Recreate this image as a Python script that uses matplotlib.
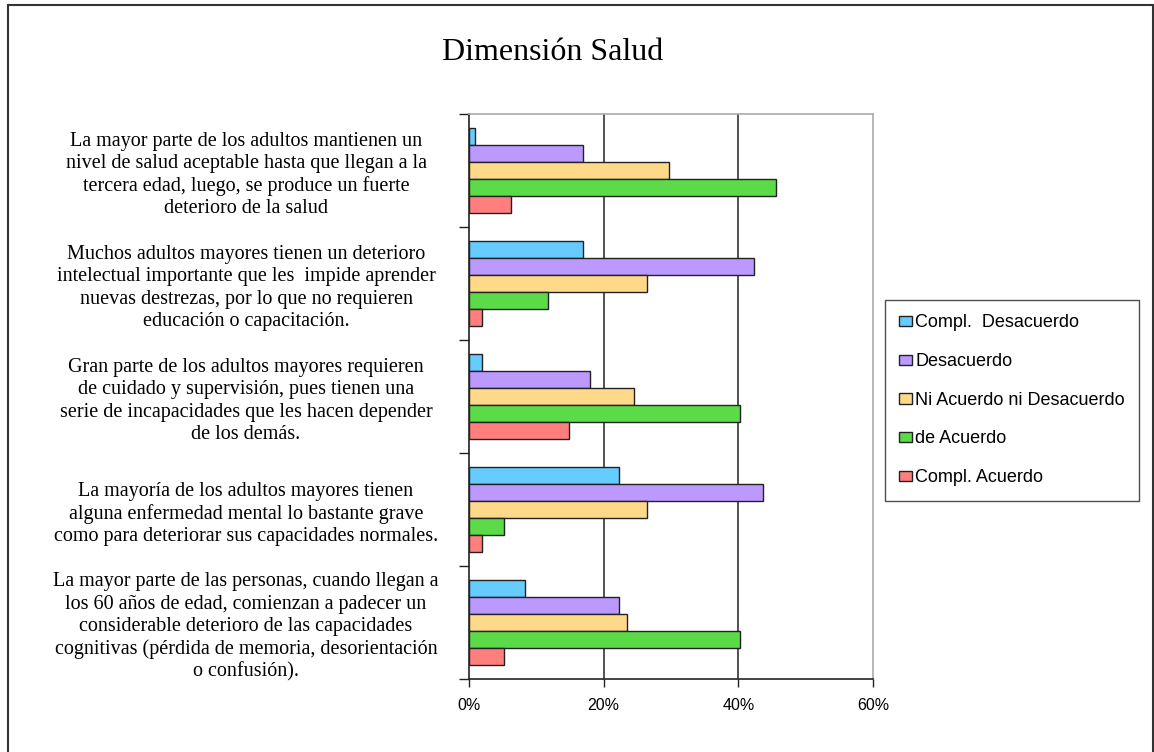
import matplotlib
matplotlib.use("Agg")
import matplotlib.pyplot as plt
import matplotlib.transforms as mtransforms
from matplotlib.patches import Patch, Rectangle
import numpy as np

categories = [
    "La mayor parte de los adultos mantienen un\nnivel de salud aceptable hasta que llegan a la\ntercera edad, luego, se produce un fuerte\ndeterioro de la salud",
    "Muchos adultos mayores tienen un deterioro\nintelectual importante que les  impide aprender\nnuevas destrezas, por lo que no requieren\neducación o capacitación.",
    "Gran parte de los adultos mayores requieren\nde cuidado y supervisión, pues tienen una\nserie de incapacidades que les hacen depender\nde los demás.",
    "La mayoría de los adultos mayores tienen\nalguna enfermedad mental lo bastante grave\ncomo para deteriorar sus capacidades normales.",
    "La mayor parte de las personas, cuando llegan a\nlos 60 años de edad, comienzan a padecer un\nconsiderable deterioro de las capacidades\ncognitivas (pérdida de memoria, desorientación\no confusión).",
]
series_names = ["Compl.  Desacuerdo", "Desacuerdo", "Ni Acuerdo ni Desacuerdo", "de Acuerdo", "Compl. Acuerdo"]
compl_desacuerdo = [0.9, 16.9, 2.0, 22.3, 8.3]
desacuerdo = [16.9, 42.4, 18.0, 43.6, 22.3]
ni_acuerdo = [29.7, 26.5, 24.5, 26.5, 23.4]
de_acuerdo = [45.6, 11.7, 40.2, 5.2, 40.2]
compl_acuerdo = [6.3, 2.0, 14.8, 2.0, 5.2]
series_values = [compl_desacuerdo, desacuerdo, ni_acuerdo, de_acuerdo, compl_acuerdo]
colors = ["#66CCFF", "#BB99FF", "#FFD98A", "#5CDB48", "#FF7F7F"]
xticks = [0, 20, 40, 60]
xticklabels = ["0%", "20%", "40%", "60%"]

W, H = 1154, 752
fig = plt.figure(figsize=(W / 100, H / 100), dpi=100)
fig.patch.set_facecolor("white")

# outer frame
fig.patches.append(Rectangle((7.5 / W, -0.01), (1145) / W, 1 - 4.5 / H + 0.01, transform=fig.transFigure,
                             fill=False, edgecolor="#333333", linewidth=1.5))

ax = fig.add_axes([469 / W, 1 - 679 / H, (873 - 469) / W, (679 - 114) / H])

n = len(categories)
bh = 0.152
y0 = np.arange(n)
for j, (vals, col) in enumerate(zip(series_values, colors)):
    ypos = y0 - 2 * bh + j * bh
    ax.barh(ypos, vals, height=bh, color=col, edgecolor="#222222", linewidth=1.0, zorder=3)

ax.set_xlim(0, 60)
ax.set_ylim(n - 0.5, -0.5)
ax.set_xticks(xticks)
ax.set_xticklabels(xticklabels, fontsize=11.5, family="Liberation Sans")
ax.tick_params(axis="x", direction="out", length=6, width=1, color="#222222", pad=8)
ax.set_yticks(np.arange(-0.5, n, 1.0))
ax.set_yticklabels([])
ax.tick_params(axis="y", direction="out", length=7, width=1, color="#222222")

for x in [20, 40]:
    ax.axvline(x, color="#222222", linewidth=1.1, zorder=1)

for s in ["top", "right"]:
    ax.spines[s].set_color("#aaaaaa")
    ax.spines[s].set_linewidth(1.2)
for s in ["left", "bottom"]:
    ax.spines[s].set_color("#222222")
    ax.spines[s].set_linewidth(1.2)

trans = mtransforms.blended_transform_factory(fig.transFigure, ax.transData)
for i, lab in enumerate(categories):
    ax.text(246 / W, i + 0.04, lab, transform=trans, ha="center", va="center", fontsize=14.5,
            family="Liberation Serif", multialignment="center", linespacing=1.23, clip_on=False)

fig.text(553 / W, 1 - 53 / H, "Dimensión Salud", ha="center", va="center", fontsize=23,
         family="Liberation Serif")

handles = [Patch(facecolor=c, edgecolor="#222222", linewidth=1.0) for c in colors]
leg = fig.legend(handles, series_names, loc="upper left",
                 bbox_to_anchor=(885 / W, 1 - 300 / H), prop={"family": "Liberation Sans", "size": 13},
                 handlelength=0.67, handleheight=0.5, handletextpad=0.2, labelspacing=1.2,
                 borderpad=0.8, frameon=True, fancybox=False, borderaxespad=0)
leg.get_frame().set_edgecolor("#222222")
leg.get_frame().set_linewidth(1.0)

fig.savefig("out.png", dpi=100)
